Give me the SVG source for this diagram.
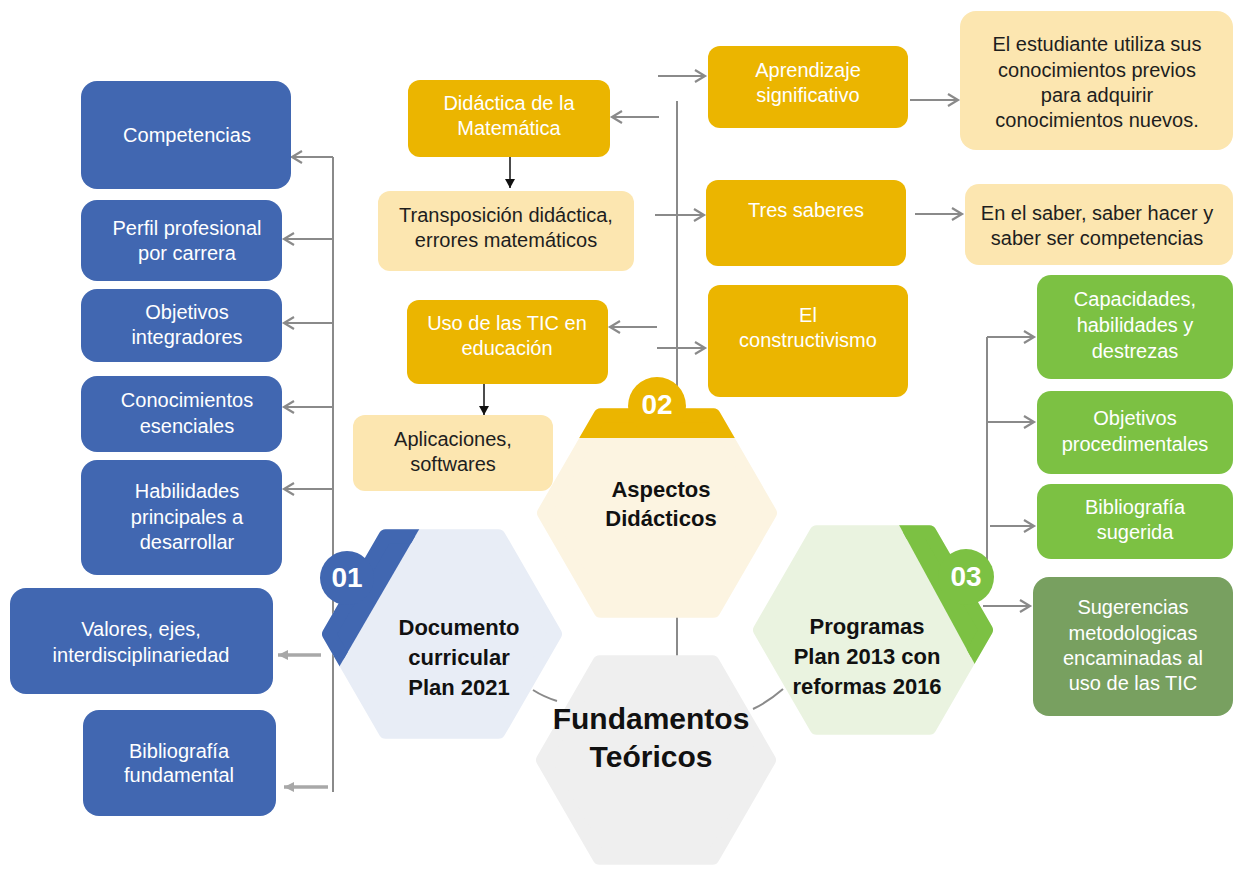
<svg xmlns="http://www.w3.org/2000/svg" xmlns:xlink="http://www.w3.org/1999/xlink" width="1233" height="869" viewBox="0 0 1233 869">
<style>
  .box text, text.t { font-family: "Liberation Sans", Arial, sans-serif; font-size: 20px; text-anchor: middle; }
  .blue rect { fill: #4167B1; }
  .yel rect { fill: #EBB500; }
  .lyel rect { fill: #FCE6B0; }
  .grn rect { fill: #7CC143; }
  .dgrn rect { fill: #78A060; }
  .wt { fill: #FFFFFF; }
  .dk { fill: #1E1E1E; }
  .conn { stroke: #8A8A8A; stroke-width: 2; fill: none; }
  .thick { stroke: #A8A8A8; stroke-width: 3.5; fill: none; }
  .blk { stroke: #111111; stroke-width: 1.5; fill: none; }
  .hexlabel { font-family: "Liberation Sans", Arial, sans-serif; font-weight: bold; text-anchor: middle; fill: #111111; }
  .badge { font-family: "Liberation Sans", Arial, sans-serif; font-weight: bold; font-size: 28px; text-anchor: middle; fill: #FFFFFF; }
</style>
<defs>
  <marker id="ag" markerUnits="userSpaceOnUse" markerWidth="16" markerHeight="16" refX="11" refY="7" orient="auto" overflow="visible">
    <path d="M1,1 L11,7 L1,13" fill="none" stroke="#8A8A8A" stroke-width="2.2"/>
  </marker>
  <marker id="at" markerUnits="userSpaceOnUse" markerWidth="16" markerHeight="16" refX="10" refY="6" orient="auto" overflow="visible">
    <path d="M0,1 L10,6 L0,11 Z" fill="#A8A8A8"/>
  </marker>
  <marker id="ab" markerUnits="userSpaceOnUse" markerWidth="12" markerHeight="12" refX="9" refY="5" orient="auto" overflow="visible">
    <path d="M0,0 L9,5 L0,10 Z" fill="#111111"/>
  </marker>
  <polygon id="hex" points="113,0 56.5,97.86 -56.5,97.86 -113,0 -56.5,-97.86 56.5,-97.86" stroke-width="14" stroke-linejoin="round"/>
  <clipPath id="clip01"><polygon points="290,490 442,490 317,705 290,705"/></clipPath>
  <clipPath id="clip02"><rect x="520" y="370" width="280" height="68"/></clipPath>
  <clipPath id="clip03"><polygon points="880,490 1020,490 1020,705 997,705"/></clipPath>
</defs>

<g id="connectors">
  <line class="conn" x1="333" y1="157" x2="333" y2="792"/>
  <line class="conn" x1="333" y1="157" x2="292" y2="157" marker-end="url(#ag)"/>
  <line class="conn" x1="333" y1="239" x2="284" y2="239" marker-end="url(#ag)"/>
  <line class="conn" x1="333" y1="323" x2="284" y2="323" marker-end="url(#ag)"/>
  <line class="conn" x1="333" y1="407" x2="284" y2="407" marker-end="url(#ag)"/>
  <line class="conn" x1="333" y1="489" x2="284" y2="489" marker-end="url(#ag)"/>
  <line class="thick" x1="321" y1="655" x2="278" y2="655" marker-end="url(#at)"/>
  <line class="thick" x1="328" y1="787" x2="284" y2="787" marker-end="url(#at)"/>

  <line class="conn" x1="677" y1="101" x2="677" y2="390"/>
  <line class="conn" x1="658" y1="76" x2="705" y2="76" marker-end="url(#ag)"/>
  <line class="conn" x1="659" y1="117" x2="612" y2="117" marker-end="url(#ag)"/>
  <line class="conn" x1="655" y1="215" x2="704" y2="215" marker-end="url(#ag)"/>
  <line class="conn" x1="657" y1="327" x2="610" y2="327" marker-end="url(#ag)"/>
  <line class="conn" x1="657" y1="348" x2="705" y2="348" marker-end="url(#ag)"/>
  <line class="conn" x1="910" y1="100" x2="958" y2="100" marker-end="url(#ag)"/>
  <line class="conn" x1="915" y1="214" x2="962" y2="214" marker-end="url(#ag)"/>

  <line class="blk" x1="510" y1="157" x2="510" y2="188" marker-end="url(#ab)"/>
  <line class="blk" x1="484" y1="384" x2="484" y2="415" marker-end="url(#ab)"/>

  <line class="conn" x1="987" y1="337" x2="987" y2="565"/>
  <line class="conn" x1="987" y1="337" x2="1034" y2="337" marker-end="url(#ag)"/>
  <line class="conn" x1="987" y1="422" x2="1034" y2="422" marker-end="url(#ag)"/>
  <line class="conn" x1="990" y1="526" x2="1034" y2="526" marker-end="url(#ag)"/>
  <line class="conn" x1="983" y1="606" x2="1030" y2="606" marker-end="url(#ag)"/>

  <line class="conn" x1="677" y1="615" x2="677" y2="656"/>
  <path class="conn" d="M533,690 Q544,697 557,701"/>
  <path class="conn" d="M753,709 Q768,702 783,689"/>
</g>

<g id="hex-fundamentos">
  <use xlink:href="#hex" href="#hex" transform="translate(656,760)" fill="#EFEFEF" stroke="#EFEFEF"/>
  <text class="hexlabel" x="651" y="729" font-size="30">Fundamentos</text>
  <text class="hexlabel" x="651" y="767" font-size="30">Teóricos</text>
</g>

<g id="hex-documento">
  <use xlink:href="#hex" href="#hex" transform="translate(442,634)" fill="#E8EDF6" stroke="#E8EDF6"/>
  <g clip-path="url(#clip01)">
    <use xlink:href="#hex" href="#hex" transform="translate(442,634)" fill="#4167B1" stroke="#4167B1"/>
  </g>
  <circle cx="347" cy="578" r="27" fill="#4167B1"/>
  <text class="badge" x="347" y="587">01</text>
  <text class="hexlabel" x="459" y="635" font-size="22">Documento</text>
  <text class="hexlabel" x="459" y="665" font-size="22">curricular</text>
  <text class="hexlabel" x="459" y="695" font-size="22">Plan 2021</text>
</g>

<g id="hex-aspectos">
  <use xlink:href="#hex" href="#hex" transform="translate(657,513)" fill="#FCF4E1" stroke="#FCF4E1"/>
  <g clip-path="url(#clip02)">
    <use xlink:href="#hex" href="#hex" transform="translate(657,513)" fill="#EBB500" stroke="#EBB500"/>
  </g>
  <circle cx="657" cy="406" r="29" fill="#EBB500"/>
  <text class="badge" x="657" y="414">02</text>
  <text class="hexlabel" x="661" y="497" font-size="22">Aspectos</text>
  <text class="hexlabel" x="661" y="526" font-size="22">Didácticos</text>
</g>

<g id="hex-programas">
  <use xlink:href="#hex" href="#hex" transform="translate(873,630)" fill="#EAF3E0" stroke="#EAF3E0"/>
  <g clip-path="url(#clip03)">
    <use xlink:href="#hex" href="#hex" transform="translate(873,630)" fill="#7CC143" stroke="#7CC143"/>
  </g>
  <circle cx="966" cy="577" r="28" fill="#7CC143"/>
  <text class="badge" x="966" y="586">03</text>
  <text class="hexlabel" x="867" y="634" font-size="22">Programas</text>
  <text class="hexlabel" x="867" y="664" font-size="22">Plan 2013 con</text>
  <text class="hexlabel" x="867" y="694" font-size="22">reformas 2016</text>
</g>

<g id="competencias" class="box blue">
  <rect x="81" y="81" width="210" height="108" rx="16"/>
  <text class="wt" x="187" y="142">Competencias</text>
</g>
<g id="perfil" class="box blue">
  <rect x="81" y="200" width="201" height="81" rx="16"/>
  <text class="wt" x="187" y="235">Perfil profesional</text>
  <text class="wt" x="187" y="260">por carrera</text>
</g>
<g id="objetivos-int" class="box blue">
  <rect x="81" y="289" width="201" height="73" rx="16"/>
  <text class="wt" x="187" y="319">Objetivos</text>
  <text class="wt" x="187" y="344">integradores</text>
</g>
<g id="conocimientos" class="box blue">
  <rect x="81" y="376" width="201" height="76" rx="16"/>
  <text class="wt" x="187" y="407">Conocimientos</text>
  <text class="wt" x="187" y="433">esenciales</text>
</g>
<g id="habilidades" class="box blue">
  <rect x="81" y="460" width="201" height="115" rx="16"/>
  <text class="wt" x="187" y="498">Habilidades</text>
  <text class="wt" x="187" y="524">principales a</text>
  <text class="wt" x="187" y="549">desarrollar</text>
</g>
<g id="valores" class="box blue">
  <rect x="10" y="588" width="263" height="106" rx="16"/>
  <text class="wt" x="141" y="636">Valores, ejes,</text>
  <text class="wt" x="141" y="662">interdisciplinariedad</text>
</g>
<g id="biblio-fund" class="box blue">
  <rect x="83" y="710" width="193" height="106" rx="16"/>
  <text class="wt" x="179" y="758">Bibliografía</text>
  <text class="wt" x="179" y="782">fundamental</text>
</g>

<g id="didactica" class="box yel">
  <rect x="408" y="80" width="202" height="77" rx="12"/>
  <text class="wt" x="509" y="110">Didáctica de la</text>
  <text class="wt" x="509" y="135">Matemática</text>
</g>
<g id="transposicion" class="box lyel">
  <rect x="378" y="191" width="256" height="80" rx="12"/>
  <text class="dk" x="506" y="222">Transposición didáctica,</text>
  <text class="dk" x="506" y="247">errores matemáticos</text>
</g>
<g id="uso-tic" class="box yel">
  <rect x="407" y="300" width="201" height="84" rx="12"/>
  <text class="wt" x="507" y="330">Uso de las TIC en</text>
  <text class="wt" x="507" y="355">educación</text>
</g>
<g id="aplicaciones" class="box lyel">
  <rect x="353" y="415" width="200" height="76" rx="12"/>
  <text class="dk" x="453" y="446">Aplicaciones,</text>
  <text class="dk" x="453" y="471">softwares</text>
</g>
<g id="aprendizaje" class="box yel">
  <rect x="708" y="46" width="200" height="82" rx="12"/>
  <text class="wt" x="808" y="77">Aprendizaje</text>
  <text class="wt" x="808" y="102">significativo</text>
</g>
<g id="tres-saberes" class="box yel">
  <rect x="706" y="180" width="200" height="86" rx="12"/>
  <text class="wt" x="806" y="217">Tres saberes</text>
</g>
<g id="constructivismo" class="box yel">
  <rect x="708" y="285" width="200" height="112" rx="12"/>
  <text class="wt" x="808" y="322">El</text>
  <text class="wt" x="808" y="347">constructivismo</text>
</g>
<g id="estudiante" class="box lyel">
  <rect x="960" y="11" width="273" height="139" rx="16"/>
  <text class="dk" x="1097" y="51">El estudiante utiliza sus</text>
  <text class="dk" x="1097" y="77">conocimientos previos</text>
  <text class="dk" x="1097" y="102">para adquirir</text>
  <text class="dk" x="1097" y="127">conocimientos nuevos.</text>
</g>
<g id="saber" class="box lyel">
  <rect x="965" y="184" width="268" height="81" rx="14"/>
  <text class="dk" x="1097" y="220">En el saber, saber hacer y</text>
  <text class="dk" x="1097" y="245">saber ser competencias</text>
</g>

<g id="capacidades" class="box grn">
  <rect x="1037" y="275" width="196" height="104" rx="14"/>
  <text class="wt" x="1135" y="306">Capacidades,</text>
  <text class="wt" x="1135" y="332">habilidades y</text>
  <text class="wt" x="1135" y="358">destrezas</text>
</g>
<g id="objetivos-proc" class="box grn">
  <rect x="1037" y="391" width="196" height="83" rx="14"/>
  <text class="wt" x="1135" y="425">Objetivos</text>
  <text class="wt" x="1135" y="451">procedimentales</text>
</g>
<g id="biblio-sug" class="box grn">
  <rect x="1037" y="484" width="196" height="75" rx="14"/>
  <text class="wt" x="1135" y="514">Bibliografía</text>
  <text class="wt" x="1135" y="539">sugerida</text>
</g>
<g id="sugerencias" class="box dgrn">
  <rect x="1033" y="577" width="200" height="139" rx="16"/>
  <text class="wt" x="1133" y="614">Sugerencias</text>
  <text class="wt" x="1133" y="640">metodologicas</text>
  <text class="wt" x="1133" y="665">encaminadas al</text>
  <text class="wt" x="1133" y="690">uso de las TIC</text>
</g>
</svg>
